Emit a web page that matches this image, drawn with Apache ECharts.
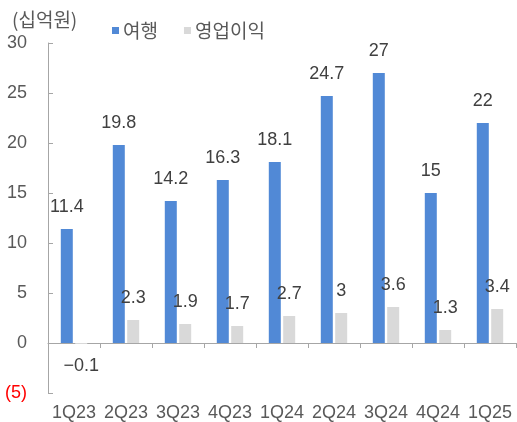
<!DOCTYPE html>
<html>
<head>
<meta charset="utf-8">
<script src="https://cdn.jsdelivr.net/npm/echarts@6/dist/echarts.min.js"></script>
<style>
  html, body { margin: 0; padding: 0; background: #fff; }
  #chart { width: 517px; height: 422px; }
</style>
</head>
<body>
<div id="chart"></div>
<script>
// Quarterly figures, 십억원
const categories = ['1Q23', '2Q23', '3Q23', '4Q23', '1Q24', '2Q24', '3Q24', '4Q24', '1Q25'];
const travel = [11.4, 19.8, 14.2, 16.3, 18.1, 24.7, 27, 15, 22];
const operatingProfit = [-0.1, 2.3, 1.9, 1.7, 2.7, 3, 3.6, 1.3, 3.4];
const seriesNames = ['여행', '영업이익'];
const unitLabel = '(십억원)';

const FONT = "'Liberation Sans', 'Noto Sans CJK KR', sans-serif";
const KR_FONT = "'Noto Sans CJK KR', 'Liberation Sans', sans-serif";
const AXIS_COLOR = '#a6a6a6';
const TEXT_COLOR = '#595959';
const LABEL_COLOR = '#404040';

const fmtValue = v => (v < 0 ? '\u2212' + Math.abs(v) : String(v));

const valueLabel = {
  show: true,
  fontFamily: FONT,
  fontSize: 18,
  color: LABEL_COLOR,
  distance: 13,
  formatter: p => fmtValue(p.value)
};

const chart = echarts.init(document.getElementById('chart'), null, { renderer: 'canvas' });

chart.setOption({
  animation: false,
  backgroundColor: '#ffffff',
  title: {
    text: unitLabel,
    left: 12,
    top: 10,
    padding: 0,
    textStyle: { fontFamily: KR_FONT, fontSize: 19, fontWeight: 'normal', color: TEXT_COLOR }
  },
  legend: {
    data: seriesNames,
    left: 112,
    top: 21,
    padding: 0,
    icon: 'rect',
    itemWidth: 7,
    itemHeight: 7,
    itemGap: 26,
    textStyle: { fontFamily: KR_FONT, fontSize: 19, color: TEXT_COLOR, padding: [0, 0, 0, -1] }
  },
  grid: { left: 48, right: 1, top: 43, bottom: 29, containLabel: false },
  xAxis: [
    {
      type: 'category',
      data: categories,
      position: 'bottom',
      axisLine: { show: true, onZero: true, lineStyle: { color: AXIS_COLOR, width: 1 } },
      axisTick: { show: true, length: 5, lineStyle: { color: AXIS_COLOR } },
      axisLabel: { show: false },
      splitLine: { show: false }
    },
    {
      type: 'category',
      data: categories,
      position: 'bottom',
      axisLine: { show: false, onZero: false },
      axisTick: { show: false },
      axisLabel: { show: true, interval: 0, margin: 11, fontFamily: FONT, fontSize: 18, color: TEXT_COLOR },
      splitLine: { show: false }
    }
  ],
  yAxis: {
    type: 'value',
    min: -5,
    max: 30,
    interval: 5,
    axisLine: { show: true, lineStyle: { color: AXIS_COLOR, width: 1 } },
    axisTick: { show: true, inside: true, length: 5, lineStyle: { color: AXIS_COLOR } },
    splitLine: { show: false },
    axisLabel: {
      margin: 21,
      fontFamily: FONT,
      fontSize: 18,
      color: TEXT_COLOR,
      formatter: v => (v < 0 ? '{neg|(' + Math.abs(v) + ')}' : String(v)),
      rich: { neg: { color: '#ff0000', fontFamily: FONT, fontSize: 18 } }
    }
  },
  series: [
    {
      name: seriesNames[0],
      type: 'bar',
      xAxisIndex: 0,
      data: travel,
      barWidth: 12,
      barGap: '20%',
      itemStyle: { color: '#5189d6' },
      label: Object.assign({ position: 'top' }, valueLabel)
    },
    {
      name: seriesNames[1],
      type: 'bar',
      xAxisIndex: 0,
      data: operatingProfit.map(v => ({
        value: v,
        label: { position: v < 0 ? 'bottom' : 'top' }
      })),
      barWidth: 12,
      barGap: '20%',
      itemStyle: { color: '#d9d9d9' },
      label: Object.assign({ position: 'top' }, valueLabel)
    }
  ]
});
</script>
</body>
</html>
